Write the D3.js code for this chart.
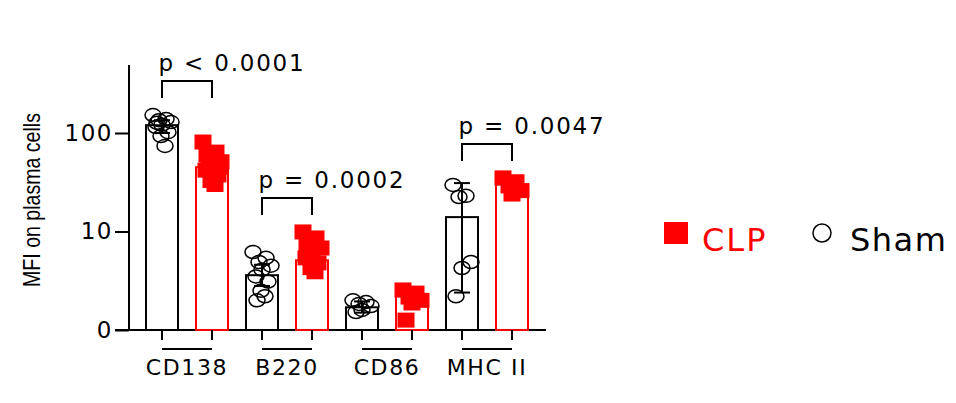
<!DOCTYPE html><html><head><script src="https://cdn.jsdelivr.net/npm/d3@7"></script>
<style>body{margin:0;background:#fff}</style></head><body><svg id="c" width="956" height="403"></svg><script>
const categories=["CD138","B220","CD86","MHC II"];
const shamMean=[120,3.6,1.7,14];
const clpMean=[45,5.1,2.2,30];
const shamErrLo=[100,2.8,1.5,2.4];
const shamErrHi=[135,4.6,1.95,31];
const clpErrLo=[38,4.4,1.8,26];
const clpErrHi=[55,6.2,2.6,34];
const shamPts=[[152,139,135,129,121,115,102,93,74,127],[6.2,5.4,4.9,4.5,4.1,3.5,3.1,2.5,2.2,2.0],[2.0,1.92,1.84,1.75,1.6,1.52],[29.7,23,22.4,4.9,4.26,2.2]];
const clpPts=[[81,64,56,51,47,42,37.5,33,30,60,45],[9.9,8.6,7.6,6.8,6.1,5.4,4.8,4.3,3.9,7.2],[2.55,2.37,2.16,2.0,1.88,1.26],[35,32,29,26,24]];
const pLabels=["p < 0.0001","p = 0.0002",null,"p = 0.0047"];
const yTicks=[1,10,100];const yTickLabels=["0","10","100"];
const svg=d3.select("#c");
const y=d3.scaleLog().domain([1,10**(265/98.5)]).range([330,65]);
const x=d3.scaleBand().domain(categories).range([137,537]).paddingInner(0).paddingOuter(0);
const red="#f00";
svg.append("g").attr("transform","translate(129,0)").call(d3.axisLeft(y).tickValues(yTicks).tickFormat((d,i)=>yTickLabels[i]).tickSize(14).tickPadding(2))
 .call(g=>{g.select(".domain").remove();g.selectAll("text").attr("font-family","DejaVu Sans").attr("font-size",23).attr("letter-spacing",1.5).attr("fill","#000");g.selectAll("line").attr("stroke","#000").attr("stroke-width",2)});
svg.append("line").attr("x1",129).attr("x2",129).attr("y1",65).attr("y2",331).attr("stroke","#000").attr("stroke-width",2);
svg.append("line").attr("x1",115).attr("x2",546).attr("y1",330).attr("y2",330).attr("stroke","#000").attr("stroke-width",2);
const bw=32;
const jit=[-9,4,-3,9,0,-6,6,-1,3,-5,8];
categories.forEach((c,i)=>{
 const cs=x(c)+25, cc=x(c)+75;
 [[cs,shamMean[i],"#000",shamErrLo[i],shamErrHi[i],shamPts[i],false],[cc,clpMean[i],red,clpErrLo[i],clpErrHi[i],clpPts[i],true]].forEach(([cx,m,col,lo,hi,pts,sq])=>{
  svg.append("rect").attr("x",cx-bw/2).attr("y",y(m)).attr("width",bw).attr("height",330-y(m)).attr("fill","#fff").attr("stroke",col).attr("stroke-width",2);
  svg.append("line").attr("x1",cx).attr("x2",cx).attr("y1",y(hi)).attr("y2",y(lo)).attr("stroke",col).attr("stroke-width",2);
  [lo,hi].forEach(v=>svg.append("line").attr("x1",cx-8).attr("x2",cx+8).attr("y1",y(v)).attr("y2",y(v)).attr("stroke",col).attr("stroke-width",2));
  pts.forEach((v,k)=>{const px=cx+jit[k%jit.length];
   if(sq)svg.append("rect").attr("x",px-8.5).attr("y",y(v)-7.5).attr("width",17).attr("height",15).attr("fill",red);
   else svg.append("ellipse").attr("cx",px).attr("cy",y(v)).attr("rx",8).attr("ry",6.5).attr("fill","none").attr("stroke","#000").attr("stroke-width",1.5);});
 });
 [cs,cc].forEach(t=>svg.append("line").attr("x1",t).attr("x2",t).attr("y1",330).attr("y2",340).attr("stroke","#000").attr("stroke-width",2));
 svg.append("line").attr("x1",cs).attr("x2",cc).attr("y1",349).attr("y2",349).attr("stroke","#000").attr("stroke-width",2);
 svg.append("text").attr("x",(cs+cc)/2).attr("y",375).attr("text-anchor","middle").attr("font-family","DejaVu Sans").attr("font-size",22).attr("letter-spacing",1.6).text(c);
 if(pLabels[i]){const top=Math.min(y(shamErrHi[i]),y(d3.max(shamPts[i])),y(d3.max(clpPts[i])))-34;
  svg.append("path").attr("d",`M${cs},${top+17}V${top}H${cc}V${top+17}`).attr("fill","none").attr("stroke","#000").attr("stroke-width",2);
  svg.append("text").attr("x",(cs+cc)/2+45).attr("y",top-10).attr("text-anchor","middle").attr("font-family","DejaVu Sans").attr("font-size",23).attr("letter-spacing",1.8).text(pLabels[i]);}
});
svg.append("text").attr("transform","translate(40,200) rotate(-90) scale(0.85,1.05)").attr("text-anchor","middle").attr("font-family","Liberation Sans").attr("font-size",23).text("MFI on plasma cells");
svg.append("rect").attr("x",664).attr("y",222).attr("width",24).attr("height",22).attr("fill",red);
svg.append("text").attr("x",702).attr("y",251).attr("font-family","DejaVu Sans").attr("font-size",32).attr("letter-spacing",2).attr("fill",red).text("CLP");
svg.append("circle").attr("cx",822).attr("cy",233).attr("r",9).attr("fill","none").attr("stroke","#000").attr("stroke-width",1.5);
svg.append("text").attr("x",850).attr("y",251).attr("font-family","DejaVu Sans").attr("font-size",32).attr("letter-spacing",1.5).text("Sham");
</script></body></html>
